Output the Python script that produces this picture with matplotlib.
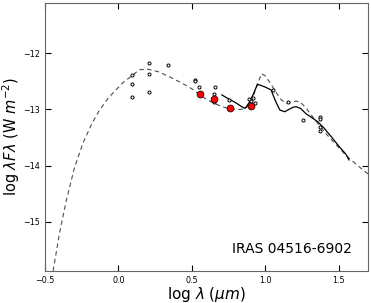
import matplotlib
matplotlib.use("Agg")
import matplotlib.pyplot as plt

# model SED (dashed)
model_x = [-0.444, -0.40, -0.353, -0.30, -0.241, -0.18, -0.128, -0.07, -0.016, 0.04, 0.097,
           0.142, 0.20, 0.277, 0.35, 0.434, 0.50, 0.547, 0.60, 0.66, 0.72, 0.77, 0.82, 0.86,
           0.90, 0.94, 0.975, 1.00, 1.04, 1.08, 1.11, 1.144, 1.18, 1.21, 1.24, 1.28, 1.32,
           1.358, 1.42, 1.48, 1.55, 1.62, 1.70]
model_y = [-15.88, -15.20, -14.61, -14.05, -13.60, -13.25, -13.01, -12.80, -12.65, -12.50, -12.39,
           -12.29, -12.28, -12.33, -12.42, -12.53, -12.63, -12.72, -12.82, -12.90, -12.96, -12.99,
           -13.00, -12.99, -12.90, -12.60, -12.36, -12.40, -12.55, -12.72, -12.83, -12.89,
           -12.87, -12.85, -12.87, -12.98, -13.12, -13.25, -13.45, -13.62, -13.82, -13.98, -14.15]

# spectrum (solid)
spec_x = [0.705, 0.75, 0.80, 0.84, 0.863, 0.89, 0.92, 0.947, 0.97, 1.00, 1.04, 1.07,
          1.10, 1.133, 1.16, 1.19, 1.21, 1.24, 1.28, 1.32, 1.358, 1.40, 1.448, 1.50, 1.55, 1.57]
spec_y = [-12.74, -12.81, -12.88, -12.95, -12.98, -12.88, -12.72, -12.55, -12.57, -12.60, -12.65,
          -12.85, -13.01, -13.04, -13.00, -12.96, -12.95, -12.98, -13.08, -13.15, -13.22, -13.33,
          -13.48, -13.65, -13.80, -13.90]

# photometry
phot_x = [0.095, 0.095, 0.095, 0.21, 0.21, 0.21, 0.335, 0.522, 0.522, 0.549, 0.658, 0.653,
          0.653, 0.753, 0.89, 0.90, 0.92, 0.93, 1.055, 1.157, 1.26, 1.37, 1.37, 1.37, 1.37]
phot_y = [-12.39, -12.55, -12.78, -12.17, -12.36, -12.68, -12.21, -12.47, -12.50, -12.59, -12.59,
          -12.73, -12.87, -12.83, -12.82, -12.85, -12.79, -12.88, -12.65, -12.86, -13.19,
          -13.14, -13.17, -13.31, -13.38]

# IRAC points
irac_x = [0.556, 0.653, 0.763, 0.903]
irac_y = [-12.72, -12.81, -12.98, -12.94]

fig = plt.figure(figsize=(3.71, 3.03), dpi=100)
ax = fig.add_axes([0.121, 0.106, 0.871, 0.884])

ax.plot(model_x, model_y, color='0.3', ls='--', lw=0.8, dashes=(4, 3))
ax.plot(spec_x, spec_y, color='k', lw=0.9)
ax.plot(phot_x, phot_y, 'o', ms=2.2, mfc='white', mec='k', mew=0.7)
ax.plot(irac_x, irac_y, 'o', ms=5, mfc='red', mec='k', mew=0.5)

ax.set_xlim(-0.5, 1.7)
ax.set_ylim(-15.88, -11.1)
ax.set_xticks([-0.5, 0.0, 0.5, 1.0, 1.5])
ax.set_yticks([-12, -13, -14, -15])
ax.tick_params(direction='in', top=True, right=True, labelsize=5.8, length=4, pad=3.5)
ax.set_xlabel(r'log $\lambda$ ($\mu m$)', fontsize=11, labelpad=0)
ax.set_ylabel(r'log $\lambda F\lambda$ (W $m^{-2}$)', fontsize=10.5)
ax.yaxis.set_label_coords(-0.072, 0.5)
ax.text(0.95, 0.055, 'IRAS 04516-6902', transform=ax.transAxes, ha='right', va='bottom', fontsize=10)
for s in ax.spines.values():
    s.set_color('0.4')

fig.savefig('out.png', dpi=100)
